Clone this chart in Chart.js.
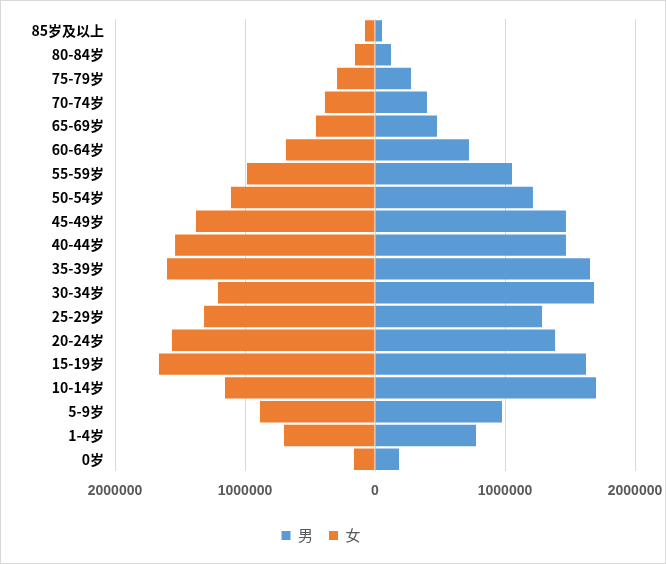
<!DOCTYPE html>
<html><head><meta charset="utf-8">
<script src="https://cdn.jsdelivr.net/npm/chart.js@4/dist/chart.umd.min.js"></script>
<style>html,body{margin:0;padding:0;background:#fff}#w{width:664px;height:562px;border:1px solid #d9d9d9;position:relative}</style>
</head><body><div id="w"><canvas id="c"></canvas></div>
<script>
const categories=["85岁及以上","80-84岁","75-79岁","70-74岁","65-69岁","60-64岁","55-59岁","50-54岁","45-49岁","40-44岁","35-39岁","30-34岁","25-29岁","20-24岁","15-19岁","10-14岁","5-9岁","1-4岁","0岁"];
const male=[54000,123000,277000,400000,477000,723000,1054000,1215000,1469000,1469000,1654000,1685000,1285000,1385000,1623000,1700000,977000,777000,185000];
const female=[77000,154000,292000,385000,454000,685000,985000,1108000,1377000,1538000,1600000,1208000,1315000,1562000,1662000,1154000,885000,700000,162000];
const tickValues=[-2000000,-1000000,0,1000000,2000000];
new Chart(document.getElementById('c'),{type:'bar',
data:{labels:categories,datasets:[
{label:'男',data:male,backgroundColor:'#5B9BD5',barPercentage:1,categoryPercentage:0.9},
{label:'女',data:female.map(v=>-v),backgroundColor:'#ED7D31',barPercentage:1,categoryPercentage:0.9}]},
options:{indexAxis:'y',responsive:true,maintainAspectRatio:false,animation:false,
layout:{padding:{top:18,right:30,left:6,bottom:10}},
plugins:{legend:{position:'bottom',labels:{boxWidth:9,boxHeight:9,font:{size:15,family:'Noto Sans CJK SC'},color:'#595959',padding:16}},tooltip:{enabled:false}},
scales:{
x:{stacked:true,min:-2000000,max:2000000,afterBuildTicks:s=>{s.ticks=tickValues.map(v=>({value:v}));},
 afterFit:s=>{s.paddingRight=0;s.paddingLeft=0;},
 ticks:{callback:v=>String(Math.abs(v)),font:{size:14,weight:'bold',family:'Liberation Sans'},color:'#595959',padding:12},
 grid:{color:'#d9d9d9',drawTicks:false},border:{display:false}},
y:{stacked:true,afterFit:s=>{s.width=108;},ticks:{font:{size:14,weight:'bold',family:'Noto Sans CJK SC'},color:'#000'},grid:{display:false},border:{display:false}}
}}});
</script></body></html>
